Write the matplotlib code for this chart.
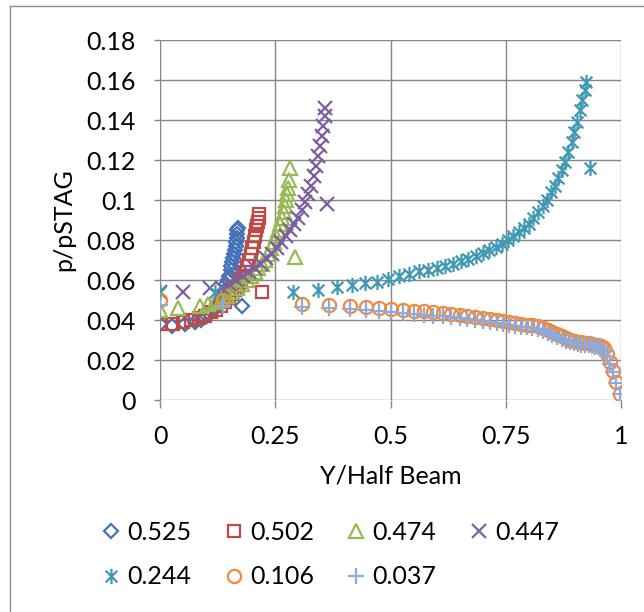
import matplotlib
matplotlib.use("Agg")
import matplotlib.pyplot as plt
from matplotlib.path import Path
from matplotlib.lines import Line2D

plt.rcParams['font.family'] = ['Lato', 'DejaVu Sans']

# upper-surface series (stations near the tip)
x_525 = [0, 0.026, 0.055, 0.075, 0.090, 0.102, 0.112, 0.120, 0.126, 0.131,
         0.136, 0.140, 0.144, 0.147, 0.150, 0.153, 0.155, 0.157, 0.159, 0.161,
         0.163, 0.164, 0.165, 0.166, 0.167, 0.168, 0.169, 0.178]
y_525 = [0.038, 0.037, 0.038, 0.039, 0.040, 0.042, 0.044, 0.046, 0.048, 0.050,
         0.053, 0.055, 0.058, 0.060, 0.062, 0.065, 0.067, 0.069, 0.071, 0.073,
         0.075, 0.077, 0.079, 0.081, 0.083, 0.085, 0.086, 0.047]

x_502 = [0, 0.029, 0.050, 0.068, 0.084, 0.098, 0.111, 0.122, 0.132, 0.141,
         0.149, 0.156, 0.163, 0.169, 0.175, 0.180, 0.185, 0.189, 0.193, 0.197,
         0.200, 0.203, 0.206, 0.208, 0.210, 0.212, 0.214, 0.215, 0.221]
y_502 = [0.038, 0.038, 0.039, 0.040, 0.041, 0.042, 0.044, 0.045, 0.047, 0.049,
         0.051, 0.053, 0.055, 0.057, 0.059, 0.062, 0.064, 0.067, 0.070, 0.073,
         0.076, 0.079, 0.082, 0.085, 0.087, 0.089, 0.091, 0.093, 0.054]

x_474 = [0, 0.040, 0.087, 0.104, 0.119, 0.132, 0.145, 0.157, 0.168, 0.178,
         0.188, 0.197, 0.205, 0.213, 0.221, 0.228, 0.235, 0.241, 0.247, 0.252,
         0.257, 0.261, 0.265, 0.268, 0.271, 0.274, 0.276, 0.278, 0.280, 0.282,
         0.293]
y_474 = [0.045, 0.046, 0.047, 0.048, 0.049, 0.050, 0.052, 0.054, 0.056, 0.058,
         0.060, 0.062, 0.064, 0.066, 0.068, 0.070, 0.073, 0.076, 0.079, 0.082,
         0.085, 0.088, 0.091, 0.094, 0.097, 0.100, 0.103, 0.106, 0.110, 0.116,
         0.0715]

x_447 = [0, 0.050, 0.108, 0.135, 0.150, 0.165, 0.180, 0.194, 0.207, 0.219,
         0.231, 0.242, 0.253, 0.263, 0.273, 0.282, 0.291, 0.299, 0.307, 0.314,
         0.321, 0.327, 0.333, 0.338, 0.343, 0.347, 0.351, 0.354, 0.357, 0.359,
         0.362]
y_447 = [0.054, 0.054, 0.056, 0.056, 0.058, 0.060, 0.062, 0.064, 0.066, 0.068,
         0.071, 0.073, 0.076, 0.079, 0.082, 0.085, 0.088, 0.091, 0.095, 0.099,
         0.103, 0.107, 0.112, 0.117, 0.122, 0.127, 0.132, 0.137, 0.142, 0.146,
         0.098]

x_244 = [0, 0.119, 0.289, 0.343, 0.383, 0.416, 0.445, 0.470, 0.495, 0.518,
         0.540, 0.561, 0.581, 0.600, 0.618, 0.636, 0.653, 0.669, 0.685, 0.700,
         0.714, 0.728, 0.741, 0.754, 0.766, 0.778, 0.789, 0.800, 0.810, 0.820,
         0.830, 0.839, 0.848, 0.856, 0.864, 0.872, 0.879, 0.886, 0.893, 0.899,
         0.905, 0.911, 0.916, 0.921, 0.924, 0.932]
y_244 = [0.054, 0.054, 0.054, 0.055, 0.0563, 0.0575, 0.0585, 0.059, 0.0605, 0.062,
         0.063, 0.0645, 0.065, 0.066, 0.067, 0.068, 0.0695, 0.0705, 0.072, 0.0735,
         0.075, 0.0765, 0.078, 0.080, 0.082, 0.084, 0.086, 0.088, 0.091, 0.094,
         0.097, 0.100, 0.104, 0.107, 0.111, 0.115, 0.119, 0.124, 0.129, 0.134,
         0.139, 0.145, 0.150, 0.155, 0.159, 0.116]

# lower-surface series (stations near the root)
x_low = [0, 0.137, 0.308, 0.367, 0.412, 0.447, 0.476, 0.502, 0.527, 0.550,
         0.572, 0.593, 0.613, 0.632, 0.650, 0.667, 0.684, 0.700, 0.715, 0.730,
         0.744, 0.758, 0.771, 0.784, 0.796, 0.808, 0.819, 0.830, 0.841, 0.851,
         0.861, 0.871, 0.880, 0.889, 0.898, 0.906, 0.914, 0.922, 0.930, 0.937,
         0.944, 0.951, 0.957, 0.963, 0.970, 0.977, 0.983, 0.990, 0.997]
y_106 = [0.050, 0.050, 0.048, 0.0475, 0.047, 0.0465, 0.046, 0.0455, 0.045, 0.0447,
         0.0443, 0.0438, 0.0433, 0.0428, 0.0423, 0.0418, 0.0413, 0.0408, 0.0403, 0.0398,
         0.0393, 0.0388, 0.0384, 0.038, 0.0377, 0.0374, 0.0368, 0.036, 0.035, 0.034,
         0.033, 0.032, 0.031, 0.0302, 0.0296, 0.0291, 0.0288, 0.0285, 0.0283, 0.028,
         0.0277, 0.0273, 0.0268, 0.0258, 0.023, 0.019, 0.0145, 0.009, 0.003]
y_037 = [0.0475, 0.047, 0.0465, 0.046, 0.0455, 0.045, 0.0445, 0.044, 0.0435, 0.043,
         0.0427, 0.0422, 0.0418, 0.0413, 0.0408, 0.0403, 0.0398, 0.0393, 0.0388, 0.0383,
         0.0378, 0.0373, 0.0369, 0.0366, 0.0363, 0.036, 0.0354, 0.0346, 0.0336, 0.0326,
         0.0316, 0.0306, 0.0297, 0.029, 0.0284, 0.028, 0.0277, 0.0275, 0.0273, 0.027,
         0.0267, 0.0263, 0.0258, 0.0247, 0.022, 0.018, 0.0138, 0.0085, 0.003]

labels = ["0.525", "0.502", "0.474", "0.447", "0.244", "0.106", "0.037"]
xticks = [0, 0.25, 0.5, 0.75, 1]
yticks = [0, 0.02, 0.04, 0.06, 0.08, 0.1, 0.12, 0.14, 0.16, 0.18]

# excel "star" marker: an x with a vertical bar
star = Path([(-1, -1), (1, 1), (-1, 1), (1, -1), (0, -1.3), (0, 1.3)],
            [Path.MOVETO, Path.LINETO, Path.MOVETO, Path.LINETO, Path.MOVETO, Path.LINETO])

series = [
    (x_525, y_525, "D", 7, "#4472B8"),
    (x_502, y_502, "s", 9, "#BE4B48"),
    (x_474, y_474, "^", 10, "#98B954"),
    (x_447, y_447, "x", 10, "#7D60A0"),
    (x_244, y_244, star, 11, "#4198B5"),
    (x_low, y_106, "o", 9.5, "#F08B3C"),
    (x_low, y_037, "+", 11, "#8EA9DB"),
]

fig = plt.figure(figsize=(6.44, 6.12), dpi=100)
ax = fig.add_axes([160 / 644, 1 - 400 / 612, 461 / 644, 360 / 612])

handles = []
for (xs, ys, m, ms, c), lab in zip(series, labels):
    h, = ax.plot(xs, ys, linestyle="none", marker=m, markersize=ms, markerfacecolor="none",
                 markeredgecolor=c, markeredgewidth=1.6, label=lab)
    handles.append(h)

ax.set_xlim(0, 1)
ax.set_ylim(0, 0.18)
ax.set_xticks(xticks)
ax.set_xticklabels(["0", "0.25", "0.5", "0.75", "1"])
ax.set_yticks(yticks)
ax.set_yticklabels(["0", "0.02", "0.04", "0.06", "0.08", "0.1", "0.12", "0.14", "0.16", "0.18"])
ax.grid(True, color="#868686", linewidth=1.0)
ax.set_axisbelow(True)
for s in ax.spines.values():
    s.set_visible(False)
ax.tick_params(axis="x", length=6, width=1.0, color="#868686", pad=12, labelsize=18)
ax.tick_params(axis="y", length=4.5, width=1.0, color="#868686", pad=13, labelsize=18)
ax.set_xlabel("Y/Half Beam", fontsize=18, labelpad=12)
ax.set_ylabel("p/pSTAG", fontsize=18, labelpad=8)

# excel fills legend rows first; matplotlib fills columns, so reorder
order = [0, 4, 1, 5, 2, 6, 3]
ax.legend([handles[i] for i in order], [labels[i] for i in order],
          loc="upper left", bbox_to_anchor=(102 / 644, 1 - 521 / 612),
          bbox_transform=fig.transFigure, ncol=4, frameon=False, fontsize=18,
          handlelength=0.7, handletextpad=0.3, columnspacing=1.35, labelspacing=0.85,
          borderpad=0, borderaxespad=0)

# chart border (only left and top edges fall inside the crop)
fig.add_artist(Line2D([10 / 644, 10 / 644], [0, 1 - 6 / 612], transform=fig.transFigure,
                      color="#8c8c8c", linewidth=1.0))
fig.add_artist(Line2D([10 / 644, 1], [1 - 6 / 612, 1 - 6 / 612], transform=fig.transFigure,
                      color="#8c8c8c", linewidth=1.0))

fig.savefig("out.png", dpi=100)
